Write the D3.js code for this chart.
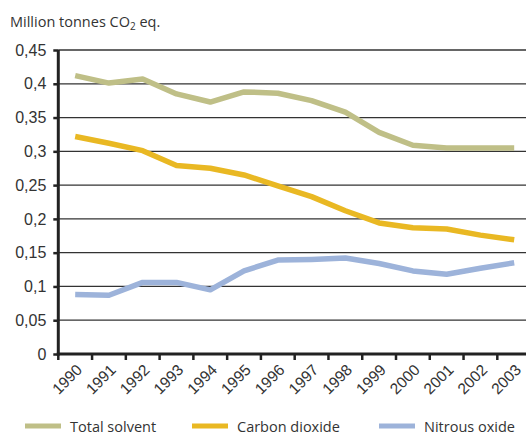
<!DOCTYPE html>
<html><head><meta charset="utf-8">
<script src="https://cdn.jsdelivr.net/npm/d3@7"></script>
<style>body{margin:0;background:#fff;}svg{display:block;font-family:"Open Sans","Liberation Sans",sans-serif;}</style>
</head><body><svg id="c" width="526" height="434"></svg>
<script>
const years = ["1990","1991","1992","1993","1994","1995","1996","1997","1998","1999","2000","2001","2002","2003"];
const totalSolvent = [0.412,0.401,0.407,0.385,0.373,0.388,0.386,0.375,0.358,0.328,0.309,0.305,0.305,0.305];
const carbonDioxide = [0.322,0.312,0.301,0.279,0.275,0.265,0.249,0.233,0.212,0.194,0.187,0.185,0.176,0.169];
const nitrousOxide = [0.088,0.087,0.106,0.106,0.095,0.123,0.139,0.140,0.142,0.134,0.123,0.118,0.127,0.135];
const yTicks = [0,0.05,0.1,0.15,0.2,0.25,0.3,0.35,0.4,0.45];
const series = [
  {name:"Total solvent", values: totalSolvent, color:"#bfbf87"},
  {name:"Carbon dioxide", values: carbonDioxide, color:"#e9b823"},
  {name:"Nitrous oxide", values: nitrousOxide, color:"#9db3da"}
];
const svg = d3.select("#c");
const mLeft = 58.3, mTop = 50, mBottom = 354, mRight = 58.3 + 14*33.77;
const x = d3.scaleBand().domain(years).range([mLeft, mRight]);
const y = d3.scaleLinear().domain([0,0.45]).range([mBottom, mTop]);
const fmt = d => d3.format(".2~f")(d).replace(".", ",");

// gridlines
svg.append("g").selectAll("line").data(yTicks.filter(d=>d>0)).join("line")
  .attr("x1", mLeft).attr("x2", mRight).attr("y1", d=>y(d)).attr("y2", d=>y(d))
  .attr("stroke", "#333").attr("stroke-width", 1.3);

// y axis
const ya = svg.append("g").attr("transform", `translate(${mLeft},0)`)
  .call(d3.axisLeft(y).tickValues(yTicks).tickFormat(fmt).tickSize(5).tickPadding(7));
ya.select(".domain").remove();
ya.selectAll(".tick line").attr("stroke","#222").attr("stroke-width",2.5);
ya.selectAll("text").attr("font-size", 16).attr("fill","#333");

// x axis
const xa = svg.append("g").attr("transform", `translate(0,${mBottom})`)
  .call(d3.axisBottom(x).tickSize(0).tickPadding(0));
xa.select(".domain").remove();
xa.selectAll(".tick text").attr("font-size", 15.5).attr("fill","#333")
  .attr("text-anchor","end").attr("dy", "0.35em")
  .attr("transform", "translate(4,13) rotate(-45)");
// x tick marks at band edges
svg.append("g").selectAll("line").data(years).join("line")
  .attr("x1", d=>x(d)).attr("x2", d=>x(d)).attr("y1", mBottom).attr("y2", mBottom+6)
  .attr("stroke","#222").attr("stroke-width",2.5);

// axis lines
svg.append("line").attr("x1", mLeft).attr("x2", mLeft).attr("y1", mTop).attr("y2", mBottom+1.5)
  .attr("stroke","#222").attr("stroke-width",3);
svg.append("line").attr("x1", mLeft-1.5).attr("x2", mRight).attr("y1", mBottom).attr("y2", mBottom)
  .attr("stroke","#222").attr("stroke-width",3);

// lines
const line = d3.line().x((d,i)=>x(years[i]) + x.bandwidth()/2).y(d=>y(d));
svg.append("g").selectAll("path").data(series).join("path")
  .attr("d", d=>line(d.values)).attr("fill","none")
  .attr("stroke", d=>d.color).attr("stroke-width", 5.5).attr("stroke-linejoin","round");

// title
svg.append("text").attr("x", 10).attr("y", 27).attr("font-size", 14.5).attr("fill","#333")
  .html('Million tonnes CO<tspan font-size="10" dy="3">2</tspan><tspan dy="-3"> eq.</tspan>');

// legend
const lx = [25, 192, 379];
const lg = svg.append("g").selectAll("g").data(series).join("g")
  .attr("transform", (d,i)=>`translate(${lx[i]},426)`);
lg.append("line").attr("x1",0).attr("x2",36).attr("stroke", d=>d.color).attr("stroke-width",5);
lg.append("text").attr("x", 45).attr("y", 5.5).attr("font-size", 14.5).attr("fill","#333").text(d=>d.name);
</script></body></html>
